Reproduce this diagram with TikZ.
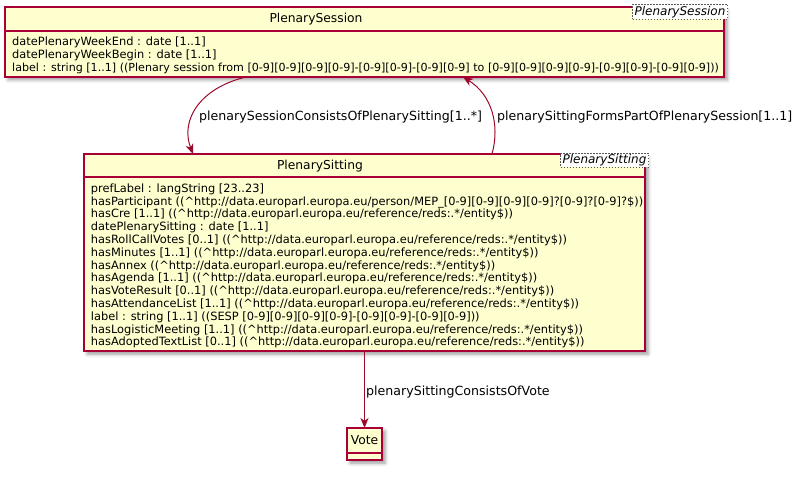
\documentclass[tikz,border=0pt]{standalone}
\usepackage{fontspec}
\setmainfont{DejaVu Sans}
\usetikzlibrary{arrows.meta,shadows.blur}
\definecolor{boxfill}{HTML}{FEFECE}
\definecolor{boxline}{HTML}{A80036}
\definecolor{arrowline}{HTML}{9A0A2A}
\newcommand{\crt}{\textasciicircum}
\begin{document}
\begin{tikzpicture}[x=1pt,y=-1pt,
 umlbox/.style={draw=boxline, fill=boxfill, line width=1.5pt, inner sep=0pt, outer sep=0pt, anchor=north west,
   blur shadow={shadow xshift=3pt, shadow yshift=-3pt, shadow blur radius=3.5pt, shadow opacity=40}},
 sepline/.style={draw=boxline, line width=1.5pt},
 attr/.style={anchor=base west, inner sep=0pt, font=\fontsize{11.4}{13}\selectfont},
 title/.style={anchor=base, inner sep=0pt, font=\fontsize{12.3}{14}\selectfont},
 tmpl/.style={draw=black!65, dash pattern=on 1.5pt off 1.5pt, line width=1pt, fill=white, inner sep=0pt, anchor=north west, font=\fontsize{12}{14}\selectfont\itshape},
 elabel/.style={anchor=base west, inner sep=0pt, font=\fontsize{12.6}{14}\selectfont},
 rel/.style={draw=arrowline, line width=1pt, -{Stealth[length=10pt,width=8pt,inset=3pt]}}
]
\useasboundingbox (0,0) rectangle (811,478);

% PlenarySession
\node[umlbox, minimum width=719pt, minimum height=70pt] (sess) at (5,7) {};
\draw[sepline] (sess.west |- 0,31) -- (sess.east |- 0,31);
\node[title] (sesstitle) at (316,23) {PlenarySession};
\node[tmpl, minimum width=95pt, minimum height=15pt] (sesstmpl) at (632,4) {PlenarySession};
\node[attr] (s1) at (12,46) {datePlenaryWeekEnd : date [1..1]};
\node[attr] (s2) at (12,58.8) {datePlenaryWeekBegin : date [1..1]};
\node[attr, font=\fontsize{11.1}{13}\selectfont] (s3) at (12,71.6) {label : string [1..1] ((Plenary session from [0-9][0-9][0-9][0-9]-[0-9][0-9]-[0-9][0-9] to [0-9][0-9][0-9][0-9]-[0-9][0-9]-[0-9][0-9]))};

% PlenarySitting
\node[umlbox, minimum width=561pt, minimum height=197pt] (sit) at (84,154) {};
\draw[sepline] (sit.west |- 0,177) -- (sit.east |- 0,177);
\node[title] (sittitle) at (320,169.5) {PlenarySitting};
\node[tmpl, minimum width=88pt, minimum height=14pt] (sittmpl) at (560,153) {PlenarySitting};
\node[attr] (p1) at (90.7,192.3) {prefLabel : langString [23..23]};
\node[attr] (p2) at (90.7,205.1) {hasParticipant ((\crt http://data.europarl.europa.eu/person/MEP\_[0-9][0-9][0-9][0-9]?[0-9]?[0-9]?\$))};
\node[attr] (p3) at (90.7,217.9) {hasCre [1..1] ((\crt http://data.europarl.europa.eu/reference/reds:.*/entity\$))};
\node[attr] (p4) at (90.7,230.7) {datePlenarySitting : date [1..1]};
\node[attr] (p5) at (90.7,243.5) {hasRollCallVotes [0..1] ((\crt http://data.europarl.europa.eu/reference/reds:.*/entity\$))};
\node[attr] (p6) at (90.7,256.3) {hasMinutes [1..1] ((\crt http://data.europarl.europa.eu/reference/reds:.*/entity\$))};
\node[attr] (p7) at (90.7,269.1) {hasAnnex ((\crt http://data.europarl.europa.eu/reference/reds:.*/entity\$))};
\node[attr] (p8) at (90.7,281.9) {hasAgenda [1..1] ((\crt http://data.europarl.europa.eu/reference/reds:.*/entity\$))};
\node[attr] (p9) at (90.7,294.7) {hasVoteResult [0..1] ((\crt http://data.europarl.europa.eu/reference/reds:.*/entity\$))};
\node[attr] (p10) at (90.7,307.5) {hasAttendanceList [1..1] ((\crt http://data.europarl.europa.eu/reference/reds:.*/entity\$))};
\node[attr] (p11) at (90.7,320.3) {label : string [1..1] ((SESP [0-9][0-9][0-9][0-9]-[0-9][0-9]-[0-9][0-9]))};
\node[attr] (p12) at (90.7,333.1) {hasLogisticMeeting [1..1] ((\crt http://data.europarl.europa.eu/reference/reds:.*/entity\$))};
\node[attr] (p13) at (90.7,345.9) {hasAdoptedTextList [0..1] ((\crt http://data.europarl.europa.eu/reference/reds:.*/entity\$))};

% Vote
\node[umlbox, minimum width=35pt, minimum height=32pt] (vote) at (347,428) {};
\draw[sepline] (vote.west |- 0,453) -- (vote.east |- 0,453);
\node[title] (votetitle) at (364.5,444.5) {Vote};

% connectors
\coordinate (a1) at ([xshift=241pt]sess.south west);
\coordinate (a2) at ([xshift=109pt]sit.north west);
\coordinate (b1) at ([xshift=408pt]sit.north west);
\coordinate (b2) at ([xshift=458pt]sess.south west);
\coordinate (c1) at (vote.north |- sit.south);
\draw[rel] (a1) .. controls (200,88) and (180,120) .. (a2);
\draw[rel] (b1) .. controls (500,125) and (492,95) .. (b2);
\draw[rel] (c1) -- (vote.north);

\node[elabel] (l1) at (199,120.5) {plenarySessionConsistsOfPlenarySitting[1..*]};
\node[elabel] (l2) at (497,120.5) {plenarySittingFormsPartOfPlenarySession[1..1]};
\node[elabel] (l3) at (366,395.5) {plenarySittingConsistsOfVote};
\end{tikzpicture}
\end{document}
